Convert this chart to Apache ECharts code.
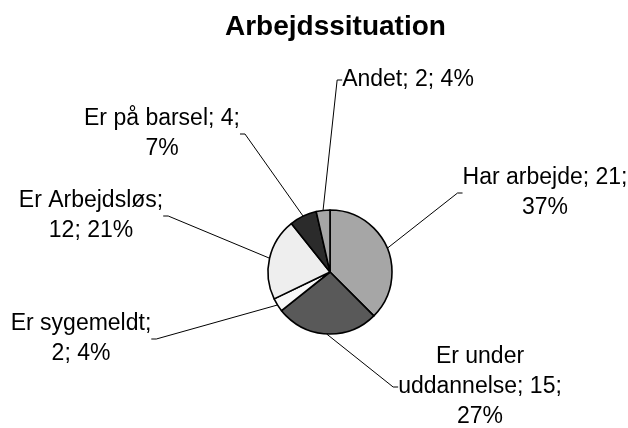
<!DOCTYPE html>
<html lang="da">
<head>
	<meta charset="UTF-8">
	<title>Arbejdssituation</title>
	<script src="https://cdn.jsdelivr.net/npm/echarts@6/dist/echarts.min.js"></script>
</head>
<body style="margin:0">
	<div id="main" style="width:628px;height:428px;"></div>
	<script type="text/javascript">
        var categories = ['Har arbejde', 'Er under uddannelse', 'Er sygemeldt', 'Er Arbejdsløs', 'Er på barsel', 'Andet'];
        var values = [21, 15, 2, 12, 4, 2];
        var percents = [37, 27, 4, 21, 7, 4];
        var colors = ['#a6a6a6', '#595959', '#f8f8f8', '#eeeeee', '#2b2b2b', '#a6a6a6'];
        // linjeskift pr. etiket (som i originalen)
        var labelBreaks = [
            ['; ', ';\n'],
            ['\n', ';\n'],
            [';\n', '; '],
            [';\n', '; '],
            ['; ', ';\n'],
            ['; ', '; ']
        ];
        // etiketternes placering (midtpunkt)
        var labelPos = [[545, 193], [480, 387], [81, 339], [91, 216], [162, 134], [408, 80]];

        var myChart = echarts.init(document.getElementById('main'));
        myChart.setOption({
            animation: false,
            title: {
                text: 'Arbejdssituation',
                left: 220,
                top: 8,
                textStyle: { fontFamily: 'Liberation Sans', fontSize: 28, fontWeight: 'bold', color: '#000' }
            },
            series: [{
                type: 'pie',
                center: [330, 272],
                radius: 62,
                startAngle: 90,
                clockwise: true,
                itemStyle: { borderColor: '#000', borderWidth: 1.6 },
                label: {
                    show: true,
                    fontFamily: 'Liberation Sans',
                    fontSize: 23,
                    lineHeight: 30,
                    color: '#000',
                    align: 'center',
                    formatter: function (p) {
                        var i = p.dataIndex;
                        var name = categories[i];
                        if (labelBreaks[i][0] === '\n') name = name.replace(' uddannelse', '\nuddannelse');
                        var sep1 = labelBreaks[i][0] === '\n' ? '; ' : labelBreaks[i][0];
                        return name + sep1 + values[i] + labelBreaks[i][1] + percents[i] + '%';
                    }
                },
                labelLine: {
                    show: true,
                    length: 10,
                    length2: 5,
                    lineStyle: { color: '#000', width: 1 }
                },
                labelLayout: function (p) {
                    var pos = labelPos[p.dataIndex];
                    return { x: pos[0], y: pos[1], align: 'center', verticalAlign: 'middle' };
                },
                data: categories.map(function (c, i) {
                    return { name: c, value: values[i], itemStyle: { color: colors[i] } };
                })
            }]
        });
    </script>
</body>
</html>
